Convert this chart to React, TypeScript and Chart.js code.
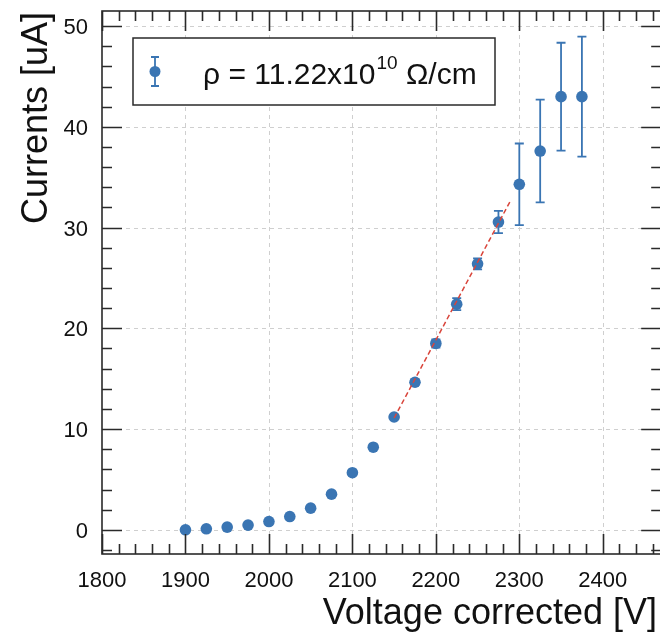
import React, { useEffect, useRef } from 'react';
import { Chart, registerables } from 'chart.js';

Chart.register(...registerables);

// ---- data ----
const voltages = [1900, 1925, 1950, 1975, 2000, 2025, 2050, 2075, 2100, 2125, 2150, 2175, 2200, 2225, 2250, 2275, 2300, 2325, 2350, 2375];
const currents = [0.0, 0.1, 0.27, 0.47, 0.82, 1.32, 2.15, 3.54, 5.67, 8.2, 11.2, 14.65, 18.5, 22.4, 26.4, 30.55, 34.3, 37.6, 43.0, 43.0];
const currentErrors = [0, 0, 0, 0, 0, 0, 0, 0, 0, 0, 0.15, 0.25, 0.4, 0.6, 0.55, 1.1, 4.05, 5.1, 5.35, 5.95];
const fitVoltages = [2150, 2289];
const fitCurrents = [11.1, 32.6];
const xTickValues = [1800, 1900, 2000, 2100, 2200, 2300, 2400];
const yTickValues = [0, 10, 20, 30, 40, 50];
const legendMain = 'ρ = 11.22x10';
const legendSup = '10';
const legendTail = ' Ω/cm';
const xTitle = 'Voltage corrected [V]';
const yTitle = 'Currents [uA]';

const FONT = '"Liberation Sans", Arial, Helvetica, sans-serif';
const BLUE = '#3a75b3';
const RED = '#d9453b';
const FRAME = '#2a2a2a';
const TEXT = '#111';

const framePlugin = {
  id: 'rootFrame',
  beforeDatasetsDraw(chart: any) {
    const { ctx, chartArea: a, scales } = chart;
    const xs = scales.x, ys = scales.y;
    ctx.save();
    ctx.strokeStyle = '#cfcfcf';
    ctx.lineWidth = 1;
    ctx.setLineDash([4, 4]);
    xTickValues.forEach((v) => {
      const px = Math.round(xs.getPixelForValue(v)) + 0.5;
      if (px <= a.left + 1) return;
      ctx.beginPath();
      ctx.moveTo(px, a.top);
      ctx.lineTo(px, a.bottom);
      ctx.stroke();
    });
    yTickValues.forEach((v) => {
      const py = Math.round(ys.getPixelForValue(v)) + 0.5;
      ctx.beginPath();
      ctx.moveTo(a.left, py);
      ctx.lineTo(a.right, py);
      ctx.stroke();
    });
    ctx.restore();

    // error bars
    ctx.save();
    ctx.strokeStyle = BLUE;
    ctx.lineWidth = 1.8;
    voltages.forEach((v, i) => {
      const e = currentErrors[i];
      if (!e) return;
      const px = xs.getPixelForValue(v);
      const top = ys.getPixelForValue(currents[i] + e);
      const bot = ys.getPixelForValue(currents[i] - e);
      ctx.beginPath();
      ctx.moveTo(px, top);
      ctx.lineTo(px, bot);
      ctx.moveTo(px - 4.5, top);
      ctx.lineTo(px + 4.5, top);
      ctx.moveTo(px - 4.5, bot);
      ctx.lineTo(px + 4.5, bot);
      ctx.stroke();
    });
    ctx.restore();
  },
  afterDraw(chart: any) {
    const { ctx, chartArea: a, scales } = chart;
    const xs = scales.x, ys = scales.y;
    ctx.save();
    ctx.strokeStyle = FRAME;
    ctx.lineWidth = 1.6;
    ctx.setLineDash([]);
    // x ticks every 20
    for (let v = 1800; v <= xs.max; v += 20) {
      const px = Math.round(xs.getPixelForValue(v)) + 0.5;
      const major = v % 100 === 0;
      const len = major ? 20 : 10;
      ctx.beginPath();
      ctx.moveTo(px, a.bottom);
      ctx.lineTo(px, a.bottom - len);
      ctx.moveTo(px, a.top);
      ctx.lineTo(px, a.top + len);
      ctx.stroke();
    }
    for (let v = -2; v <= ys.max; v += 2) {
      const py = Math.round(ys.getPixelForValue(v)) + 0.5;
      const major = v % 10 === 0;
      const len = major ? 20 : 10;
      ctx.beginPath();
      ctx.moveTo(a.left, py);
      ctx.lineTo(a.left + len, py);
      ctx.moveTo(a.right, py);
      ctx.lineTo(a.right - len, py);
      ctx.stroke();
    }
    ctx.strokeRect(a.left, a.top, a.right - a.left, a.bottom - a.top);
    ctx.restore();

    // tick labels
    ctx.save();
    ctx.fillStyle = TEXT;
    ctx.font = `22px ${FONT}`;
    ctx.textAlign = 'center';
    ctx.textBaseline = 'alphabetic';
    xTickValues.forEach((v) => {
      ctx.fillText(String(v), xs.getPixelForValue(v), 587);
    });
    ctx.textAlign = 'right';
    yTickValues.forEach((v) => {
      ctx.fillText(String(v), 88, ys.getPixelForValue(v) + 8);
    });
    ctx.restore();

    // axis titles
    ctx.save();
    ctx.fillStyle = TEXT;
    ctx.font = `36px ${FONT}`;
    ctx.textAlign = 'right';
    ctx.textBaseline = 'alphabetic';
    ctx.fillText(xTitle, 657, 624);
    ctx.translate(47, 12);
    ctx.rotate(-Math.PI / 2);
    ctx.fillText(yTitle, 0, 0);
    ctx.restore();

    // legend
    ctx.save();
    ctx.fillStyle = '#fff';
    ctx.fillRect(133, 38, 362, 67);
    ctx.strokeStyle = FRAME;
    ctx.lineWidth = 1.5;
    ctx.strokeRect(133, 38, 362, 67);
    ctx.strokeStyle = BLUE;
    ctx.lineWidth = 1.8;
    ctx.beginPath();
    ctx.moveTo(155, 57); ctx.lineTo(155, 86);
    ctx.moveTo(151, 57); ctx.lineTo(159, 57);
    ctx.moveTo(151, 86); ctx.lineTo(159, 86);
    ctx.stroke();
    ctx.fillStyle = BLUE;
    ctx.beginPath();
    ctx.arc(155, 71.5, 5.5, 0, Math.PI * 2);
    ctx.fill();
    ctx.fillStyle = TEXT;
    ctx.textAlign = 'left';
    ctx.textBaseline = 'alphabetic';
    ctx.font = `30px ${FONT}`;
    let x = 203;
    ctx.fillText(legendMain, x, 84);
    x += ctx.measureText(legendMain).width + 1;
    ctx.font = `19px ${FONT}`;
    ctx.fillText(legendSup, x, 69);
    x += ctx.measureText(legendSup).width;
    ctx.font = `30px ${FONT}`;
    ctx.fillText(legendTail, x, 84);
    ctx.restore();
  },
};

export default function App() {
  const ref = useRef<HTMLCanvasElement | null>(null);
  useEffect(() => {
    document.body.style.margin = '0';
    const canvas = ref.current;
    if (!canvas) return;
    const chart = new Chart(canvas, {
      type: 'scatter',
      data: {
        datasets: [
          {
            label: 'data',
            data: voltages.map((v, i) => ({ x: v, y: currents[i] })),
            backgroundColor: BLUE,
            borderColor: BLUE,
            pointRadius: 5.8,
            pointBorderWidth: 0,
            showLine: false,
          },
          {
            label: 'fit',
            data: fitVoltages.map((v, i) => ({ x: v, y: fitCurrents[i] })),
            borderColor: RED,
            borderWidth: 1.5,
            borderDash: [5, 3],
            pointRadius: 0,
            showLine: true,
            order: -1,
          },
        ],
      },
      options: {
        animation: false,
        responsive: false,
        devicePixelRatio: 1,
        layout: { padding: { top: 11, right: 2, left: 0, bottom: 0 } },
        plugins: { legend: { display: false }, tooltip: { enabled: false } },
        scales: {
          x: {
            type: 'linear',
            min: 1800,
            max: 2470,
            afterBuildTicks: (s: any) => { s.ticks = xTickValues.map((v) => ({ value: v })); },
            afterFit: (s: any) => { s.height = 81; },
            grid: { display: false, drawTicks: false },
            border: { display: false },
            ticks: { display: false },
          },
          y: {
            type: 'linear',
            min: -2.4,
            max: 51.5,
            afterBuildTicks: (s: any) => { s.ticks = yTickValues.map((v) => ({ value: v })); },
            afterFit: (s: any) => { s.width = 102; },
            grid: { display: false, drawTicks: false },
            border: { display: false },
            ticks: { display: false },
          },
        },
      },
      plugins: [framePlugin],
    });
    return () => chart.destroy();
  }, []);
  return (
    <div style={{ width: 660, height: 635, overflow: 'hidden' }}>
      <canvas ref={ref} width={667} height={635} style={{ display: 'block' }} />
    </div>
  );
}
